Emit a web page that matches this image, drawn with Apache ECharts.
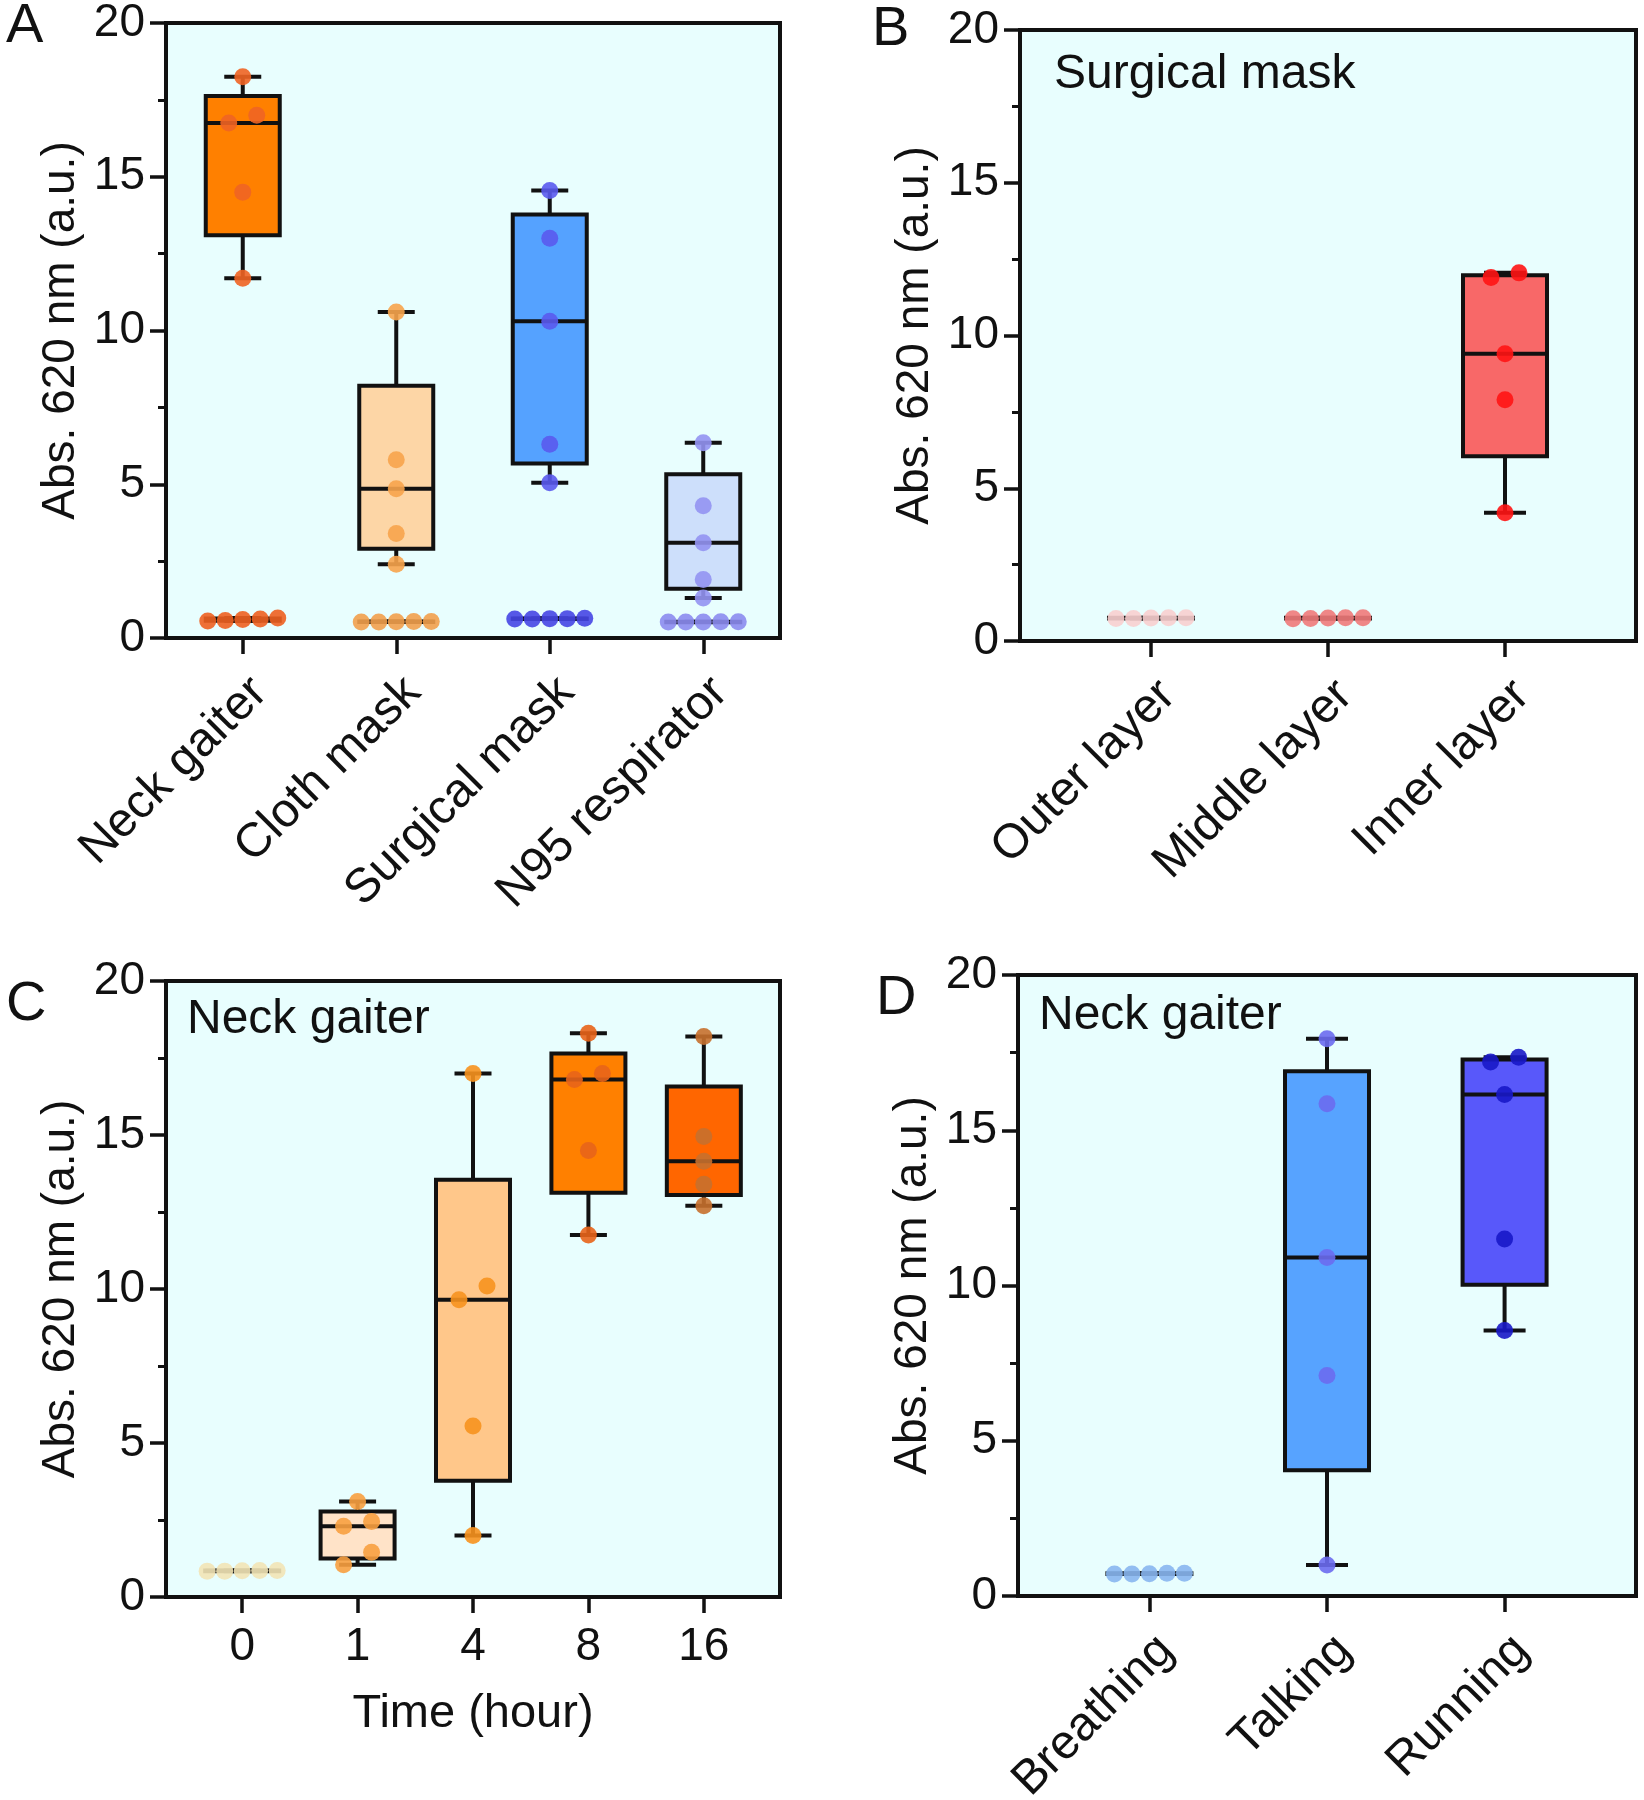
<!DOCTYPE html>
<html>
<head>
<meta charset="utf-8">
<title>Abs. 620 nm box plots</title>
<script src="https://cdn.jsdelivr.net/npm/echarts@6/dist/echarts.min.js"></script>
<style>
html, body { margin: 0; padding: 0; background: #fff; }
#chart { width: 1644px; height: 1800px; }
</style>
</head>
<body>
<div id="chart"></div>
<script>
// A: mask types
const maskTypes = ['Neck gaiter', 'Cloth mask', 'Surgical mask', 'N95 respirator']
const maskValues = [
  [18.25, 17.0, 16.75, 14.5, 11.7],
  [10.6, 5.8, 4.85, 3.4, 2.4],
  [14.55, 13.0, 10.3, 6.3, 5.05],
  [6.35, 4.3, 3.1, 1.9, 1.3]
]
const maskControls = [
  [0.55, 0.62, 0.6, 0.65, 0.57],
  [0.52, 0.54, 0.53, 0.54, 0.52],
  [0.62, 0.63, 0.64, 0.63, 0.62],
  [0.52, 0.53, 0.52, 0.53, 0.52]
]

// B: surgical mask layers
const layers = ['Outer layer', 'Middle layer', 'Inner layer']
const layerValues = [
  [0.74, 0.76, 0.75, 0.76, 0.74],
  [0.73, 0.76, 0.75, 0.76, 0.74],
  [12.05, 11.9, 9.4, 7.9, 4.2]
]

// C: neck gaiter vs time
const hours = ['0', '1', '4', '8', '16']
const hourValues = [
  [0.84, 0.86, 0.85, 0.86, 0.84],
  [3.1, 2.45, 2.3, 1.45, 1.05],
  [17.0, 10.1, 9.65, 5.55, 2.0],
  [18.3, 17.0, 16.8, 14.5, 11.75],
  [18.2, 14.95, 14.15, 13.4, 12.7]
]

// D: neck gaiter vs activity
const activities = ['Breathing', 'Talking', 'Running']
const activityValues = [
  [0.71, 0.73, 0.72, 0.73, 0.71],
  [17.95, 15.85, 10.9, 7.1, 1.0],
  [17.35, 17.2, 16.15, 11.5, 8.55]
]

const yTicks = [0, 5, 10, 15, 20]

const FONT = '"Liberation Sans", Arial, Helvetica, sans-serif'
const INK = '#111'

const panels = [
  {
    letter: 'A', cats: maskTypes, groups: [...maskValues, ...maskControls],
    xs: [1, 2, 3, 4, 1, 2, 3, 4],
    box: ['#FF8000', '#FDD6A6', '#55A2FF', '#CDDFFB', '#FF8000', '#FDD6A6', '#55A2FF', '#CDDFFB'],
    dot: ['#F06424', '#F7A44C', '#5A5AEE', '#9494F2', '#EE6020', '#F2A04C', '#4646E4', '#8C8CF0'],
    grid: { left: 166, top: 23, width: 614, height: 615 },
    xMin: 0.5, xMax: 4.5, boxW: 74, rotate: 45
  },
  {
    letter: 'B', cats: layers, groups: layerValues,
    xs: [1, 2, 3],
    box: ['#F7D4D4', '#F08A8A', '#F86868'],
    dot: ['#F8CFCF', '#F07A7A', '#FF1414'],
    grid: { left: 1020, top: 30, width: 616, height: 611 },
    xMin: 0.26, xMax: 3.74, boxW: 84, rotate: 45
  },
  {
    letter: 'C', cats: hours, groups: hourValues,
    xs: [1, 2, 3, 4, 5],
    box: ['#F4EAC4', '#FFE3C8', '#FFC78A', '#FF8000', '#FF6600'],
    dot: ['#F2E4B6', '#F8A040', '#F7921E', '#E8641A', '#C6702E'],
    grid: { left: 166, top: 981, width: 614, height: 616 },
    xMin: 0.34, xMax: 5.66, boxW: 74, rotate: 0, xName: 'Time (hour)'
  },
  {
    letter: 'D', cats: activities, groups: activityValues,
    xs: [1, 2, 3],
    box: ['#8CB9F0', '#57A3FF', '#5858FA'],
    dot: ['#88B6F0', '#6B6BF0', '#1818C8'],
    grid: { left: 1018, top: 975, width: 618, height: 621 },
    xMin: 0.26, xMax: 3.74, boxW: 84, rotate: 45
  }
]

function median(arr) {
  const s = [...arr].sort((a, b) => a - b)
  const m = Math.floor(s.length / 2)
  return s.length % 2 ? s[m] : (s[m - 1] + s[m]) / 2
}

// GraphPad-style quartiles: halves exclude the median
function boxStats(values) {
  const s = [...values].sort((a, b) => a - b)
  const n = s.length
  return [s[0], median(s.slice(0, Math.floor(n / 2))), median(s), median(s.slice(Math.ceil(n / 2))), s[n - 1]]
}

// spread points that sit at about the same height, like a scatter dot plot
function swarm(values, pxPerUnit) {
  const order = values.map((v, i) => i).sort((a, b) => values[a] - values[b])
  const offsets = values.map(() => 0)
  let group = []
  const flush = () => {
    const n = group.length
    const step = n > 1 ? Math.min(28, 70 / (n - 1)) : 0
    group.forEach((k, j) => { offsets[k] = (j - (n - 1) / 2) * step })
    group = []
  }
  order.forEach((k) => {
    if (group.length && (values[k] - values[group[0]]) * pxPerUnit >= 16) flush()
    group.push(k)
  })
  flush()
  return offsets
}

function renderBox(boxW) {
  return function (params, api) {
    const x = api.value(0)
    const pMin = api.coord([x, api.value(1)])
    const pQ1 = api.coord([x, api.value(2)])
    const pMed = api.coord([x, api.value(3)])
    const pQ3 = api.coord([x, api.value(4)])
    const pMax = api.coord([x, api.value(5)])
    const cx = pMin[0]
    const hw = boxW / 2
    const cw = boxW / 4
    const line = { stroke: INK, lineWidth: 4 }
    return {
      type: 'group',
      children: [
        { type: 'line', shape: { x1: cx, y1: pMax[1], x2: cx, y2: pQ3[1] }, style: line },
        { type: 'line', shape: { x1: cx, y1: pQ1[1], x2: cx, y2: pMin[1] }, style: line },
        { type: 'line', shape: { x1: cx - cw, y1: pMax[1], x2: cx + cw, y2: pMax[1] }, style: line },
        { type: 'line', shape: { x1: cx - cw, y1: pMin[1], x2: cx + cw, y2: pMin[1] }, style: line },
        {
          type: 'rect',
          shape: { x: cx - hw, y: pQ3[1], width: boxW, height: Math.max(pQ1[1] - pQ3[1], 0.5) },
          style: { fill: api.visual('color'), stroke: INK, lineWidth: 4 }
        },
        { type: 'line', shape: { x1: cx - hw, y1: pMed[1], x2: cx + hw, y2: pMed[1] }, style: line }
      ]
    }
  }
}

const textBase = { fontFamily: FONT, color: INK }
const grids = []
const xAxes = []
const yAxes = []
const series = []

panels.forEach((p, i) => {
  grids.push({
    ...p.grid,
    show: true,
    backgroundColor: '#E8FEFE',
    borderColor: INK,
    borderWidth: 4,
    outerBoundsMode: 'none'
  })

  const catValues = p.cats.map((c, k) => k + 1)
  const catLabel = {
    ...textBase,
    customValues: catValues,
    fontSize: p.rotate ? 48 : 46,
    rotate: p.rotate,
    margin: p.rotate ? 30 : 27,
    formatter: (v) => p.cats[Math.round(v) - 1]
  }
  if (p.rotate) catLabel.verticalAlign = 'top'

  xAxes.push({
    gridIndex: i,
    type: 'value',
    min: p.xMin,
    max: p.xMax,
    name: p.xName || '',
    nameLocation: 'middle',
    nameGap: 94,
    nameTextStyle: { ...textBase, fontSize: 47 },
    splitLine: { show: false },
    axisLine: { show: true, lineStyle: { color: INK, width: 4 } },
    axisTick: { show: true, customValues: catValues, length: 16, lineStyle: { color: INK, width: 3.5 } },
    axisLabel: catLabel
  })

  yAxes.push({
    gridIndex: i,
    type: 'value',
    min: yTicks[0],
    max: yTicks[yTicks.length - 1],
    interval: yTicks[1] - yTicks[0],
    name: 'Abs. 620 nm (a.u.)',
    nameLocation: 'middle',
    nameGap: 82,
    nameTextStyle: { ...textBase, fontSize: 46 },
    splitLine: { show: false },
    axisLine: { show: true, lineStyle: { color: INK, width: 4 } },
    axisTick: { show: true, length: 16, lineStyle: { color: INK, width: 3.5 } },
    minorTick: { show: true, splitNumber: 2, length: 8, lineStyle: { color: INK, width: 3 } },
    minorSplitLine: { show: false },
    axisLabel: { ...textBase, fontSize: 46, margin: 21 }
  })

  const pxPerUnit = p.grid.height / (yTicks[yTicks.length - 1] - yTicks[0])

  series.push({
    type: 'custom',
    xAxisIndex: i,
    yAxisIndex: i,
    z: 2,
    clip: false,
    renderItem: renderBox(p.boxW),
    encode: { x: 0, y: [1, 2, 3, 4, 5] },
    data: p.groups.map((g, k) => ({
      value: [p.xs[k], ...boxStats(g)],
      itemStyle: { color: p.box[k] }
    }))
  })

  const dots = []
  p.groups.forEach((g, k) => {
    const offsets = swarm(g, pxPerUnit)
    g.forEach((v, j) => {
      dots.push({
        value: [p.xs[k], v],
        symbolOffset: [offsets[j], 0],
        itemStyle: { color: p.dot[k] }
      })
    })
  })
  series.push({
    type: 'scatter',
    xAxisIndex: i,
    yAxisIndex: i,
    z: 3,
    symbolSize: 17,
    itemStyle: { opacity: 0.9 },
    data: dots
  })
})

function label(text, x, y, size) {
  return { type: 'text', x, y, z: 10, style: { text, font: size + 'px ' + FONT, fill: INK, verticalAlign: 'middle' } }
}

const graphics = [
  label('A', 6, 27, 56),
  label('B', 872, 30, 56),
  label('C', 6, 1005, 56),
  label('D', 876, 999, 56),
  label('Surgical mask', 1054, 75, 48),
  label('Neck gaiter', 187, 1020, 48),
  label('Neck gaiter', 1039, 1016, 48)
]

const chart = echarts.init(document.getElementById('chart'), null, { renderer: 'canvas' })
chart.setOption({
  backgroundColor: '#fff',
  animation: false,
  grid: grids,
  xAxis: xAxes,
  yAxis: yAxes,
  series: series,
  graphic: graphics
})
</script>
</body>
</html>
